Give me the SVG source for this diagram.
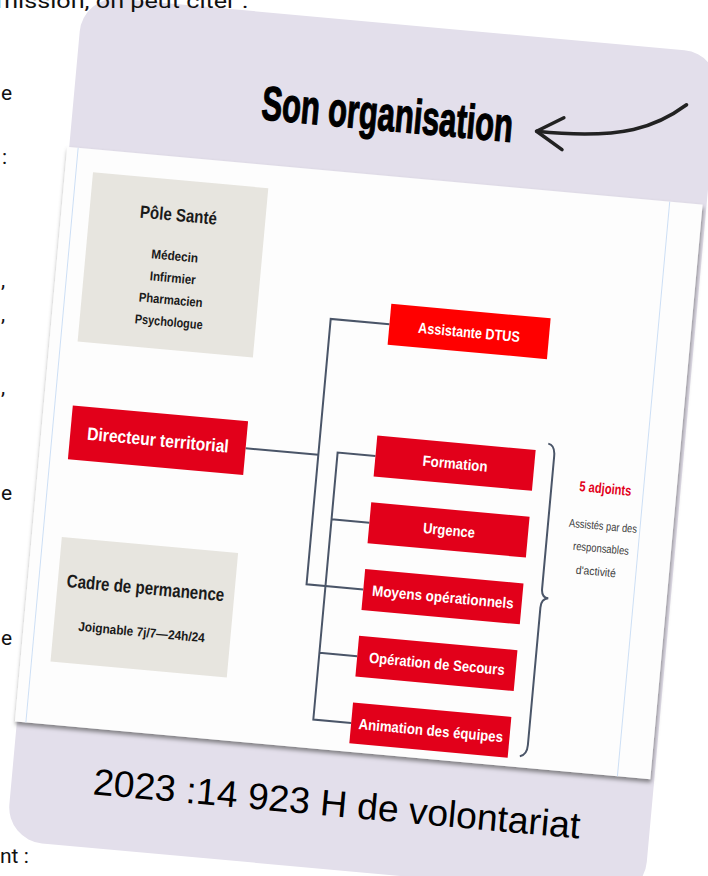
<svg xmlns="http://www.w3.org/2000/svg" width="708" height="876" viewBox="0 0 708 876">
<defs>
<filter id="sh" x="-5%" y="-5%" width="110%" height="112%">
<feDropShadow dx="1" dy="3" stdDeviation="2.2" flood-color="#555" flood-opacity="0.7"/>
</filter>
<style>
.bg{font-family:Roboto,"Liberation Sans",sans-serif;font-size:21px;fill:#111}
.cal{font-family:"Liberation Sans Narrow","Liberation Sans",sans-serif;font-weight:bold;text-anchor:middle}
.red{fill:#e2001a}
.beige{fill:#e7e5df}
.wt{fill:#fff;font-size:15px}
.dk{fill:#1a1a1a}
.con{fill:none;stroke:#4a5568;stroke-width:2}
.note{font-family:"Liberation Sans Narrow","Liberation Sans",sans-serif;font-size:11.5px;fill:#404040;text-anchor:middle}
</style>
</defs>
<rect width="708" height="876" fill="#ffffff"/>
<g transform="rotate(5.2 354 438)">
<rect id="card" x="44" y="22" width="640" height="848" rx="36" fill="#e3dfeb"/>
<g id="title">
<text x="358" y="129" font-family="'Liberation Sans Narrow','Liberation Sans',sans-serif" font-weight="bold" font-size="48" text-anchor="middle" textLength="252" lengthAdjust="spacingAndGlyphs" fill="#000" stroke="#000" stroke-width="1.2">Son organisation</text>
</g>
<g id="title-arrow" fill="none" stroke="#222" stroke-width="3.5" stroke-linecap="round" stroke-linejoin="round">
<path d="M655 76 C628 100 596 117 508 116"/>
<path d="M534 100 L508 116 L535 132"/>
</g>
<g id="chart">
<rect x="42" y="174" width="638" height="577" fill="#fdfdfd" filter="url(#sh)"/>
<line x1="53" y1="174" x2="53" y2="751" stroke="#cddff5" stroke-width="1"/>
<line x1="647" y1="174" x2="647" y2="751" stroke="#cddff5" stroke-width="1"/>
</g>
<g id="connectors">
<path class="con" d="M247 458 H320"/>
<path class="con" d="M379 321.5 H320 V588 H377"/>
<path class="con" d="M377 454 H339 V722 H377 M339 521 H377 M339 655 H377"/>
<path class="con" stroke-width="1.6" d="M548 426 Q555 427 555 438 L555 571 Q555 580 562 580 Q555 581 555 590 L555 728 Q555 738 548 740"/>
</g>
<g id="pole-sante">
<rect class="beige" x="70" y="197" width="176" height="170"/>
<text class="cal dk" x="159" y="238" font-size="18" textLength="77" lengthAdjust="spacingAndGlyphs">Pôle Santé</text>
<text class="cal dk" x="159" y="277.5" font-size="13" textLength="47" lengthAdjust="spacingAndGlyphs">Médecin</text>
<text class="cal dk" x="159" y="299.5" font-size="13" textLength="46" lengthAdjust="spacingAndGlyphs">Infirmier</text>
<text class="cal dk" x="159" y="321.5" font-size="13" textLength="64" lengthAdjust="spacingAndGlyphs">Pharmacien</text>
<text class="cal dk" x="159" y="343.5" font-size="13" textLength="68" lengthAdjust="spacingAndGlyphs">Psychologue</text>
</g>
<g id="directeur">
<rect class="red" x="71" y="431" width="176" height="54"/>
<text class="cal" fill="#fff" x="159" y="464" font-size="18" textLength="142" lengthAdjust="spacingAndGlyphs">Directeur territorial</text>
</g>
<g id="cadre">
<rect class="beige" x="72" y="563" width="177" height="125"/>
<text class="cal dk" x="160" y="612.5" font-size="18.5" textLength="158" lengthAdjust="spacingAndGlyphs">Cadre de permanence</text>
<text class="cal dk" x="160" y="655" font-size="13" textLength="127" lengthAdjust="spacingAndGlyphs">Joignable 7j/7—24h/24</text>
</g>
<g id="assistante">
<rect x="379" y="301" width="160" height="41" fill="#ff0000"/>
<text class="cal wt" x="459" y="327.5" textLength="102" lengthAdjust="spacingAndGlyphs">Assistante DTUS</text>
</g>
<g id="formation">
<rect class="red" x="377" y="433.5" width="159" height="41"/>
<text class="cal wt" x="457" y="459.5" textLength="65" lengthAdjust="spacingAndGlyphs">Formation</text>
</g>
<g id="urgence">
<rect class="red" x="377" y="500.5" width="159" height="41"/>
<text class="cal wt" x="457" y="526.5" textLength="52" lengthAdjust="spacingAndGlyphs">Urgence</text>
</g>
<g id="moyens">
<rect class="red" x="377" y="567.5" width="159" height="41"/>
<text class="cal wt" x="457" y="593.5" textLength="142" lengthAdjust="spacingAndGlyphs">Moyens opérationnels</text>
</g>
<g id="operation">
<rect class="red" x="377" y="634.5" width="159" height="41"/>
<text class="cal wt" x="457" y="660.5" textLength="136" lengthAdjust="spacingAndGlyphs">Opération de Secours</text>
</g>
<g id="animation">
<rect class="red" x="377" y="701.5" width="159" height="41"/>
<text class="cal wt" x="457" y="727.5" textLength="145" lengthAdjust="spacingAndGlyphs">Animation des équipes</text>
</g>
<g id="adjoints">
<text class="cal" fill="#e2001a" x="609" y="470.5" font-size="14.5" textLength="52" lengthAdjust="spacingAndGlyphs">5 adjoints</text>
<text class="note" x="610" y="507" textLength="68" lengthAdjust="spacingAndGlyphs">Assistés par des</text>
<text class="note" x="610" y="529.5" textLength="56" lengthAdjust="spacingAndGlyphs">responsables</text>
<text class="note" x="607" y="553" textLength="40" lengthAdjust="spacingAndGlyphs">d'activité</text>
</g>
<g id="volontariat">
<text x="370" y="816.5" font-family="'Liberation Sans',Arial,sans-serif" font-size="37" text-anchor="middle" textLength="489" lengthAdjust="spacingAndGlyphs" fill="#000">2023 :14 923 H de volontariat</text>
</g>
</g>
<g id="background-text">
<text class="bg" x="-4" y="8" textLength="252" lengthAdjust="spacingAndGlyphs">mission, on peut citer :</text>
<text class="bg" x="1" y="100">e</text>
<text class="bg" x="2" y="164">:</text>
<text class="bg" x="1" y="287">,</text>
<text class="bg" x="1" y="321">,</text>
<text class="bg" x="1" y="394">,</text>
<text class="bg" x="1" y="500">e</text>
<text class="bg" x="1" y="645">e</text>
<text class="bg" x="0" y="863">nt :</text>
</g>
</svg>
